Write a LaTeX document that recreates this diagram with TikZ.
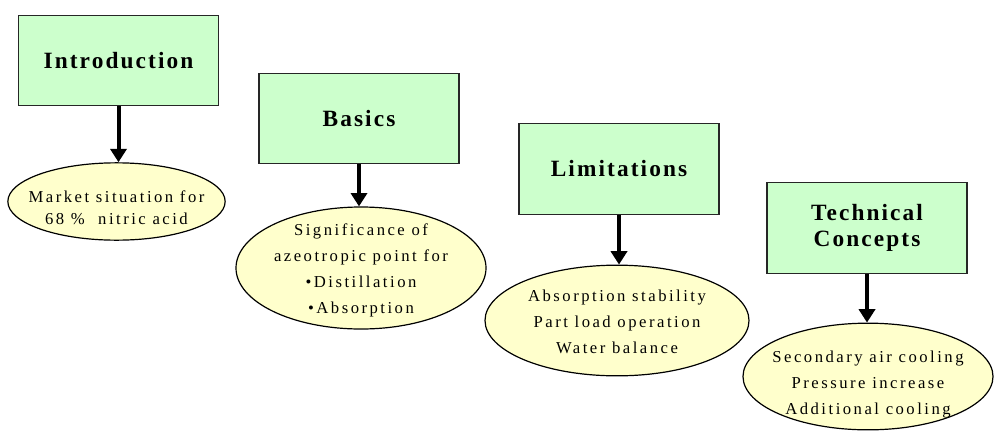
\documentclass[tikz,border=0pt]{standalone}
\usepackage{fontspec}
\usepackage{tikz}
\usetikzlibrary{arrows.meta, shapes.geometric}
\setmainfont{Liberation Serif}
\newfontfamily\headfont{Liberation Serif}[LetterSpace=9]
\newfontfamily\notefont{Liberation Serif}[LetterSpace=15]
\definecolor{topicgreen}{HTML}{CCFFCC}
\definecolor{notecream}{HTML}{FFFFCC}

\begin{document}
\begin{tikzpicture}[
    x=0.75pt, y=-0.75pt,
    topic/.style={draw=black!85, fill=topicgreen, line width=0.9pt,
               minimum width=150pt, minimum height=68pt, align=center,
               font=\headfont\bfseries\fontsize{17.5}{19.5}\selectfont},
    note/.style={ellipse, draw=black, fill=notecream, line width=0.9pt, inner sep=0pt},
    notetext/.style={align=center, inner sep=0pt,
               font=\notefont\fontsize{12.5}{19.5}\selectfont},
    down/.style={-{Triangle[length=10pt, width=12pt]}, line width=3pt},
]
    \useasboundingbox (0,0) rectangle (994,432);

    % topic boxes, stepping down to the right
    \node[topic] (intro) at (118.5, 60.5) {Introduction};
    \node[topic] (basics) at (359, 118.5) {Basics};
    \node[topic] (limits) at (619, 169) {Limitations};
    \node[topic] (tech) at (867, 228) {Technical\\Concepts};

    % notes under each topic
    \node[note, minimum width=163pt, minimum height=58pt] (market) at (116.5, 201.5) {};
    \node[notetext, font=\notefont\fontsize{12.5}{16.5}\selectfont]
        (markettxt) at ([yshift=-5pt]market.center) {Market situation for\\68 \%\ \ nitric acid};

    \node[note, minimum width=187.5pt, minimum height=91.5pt] (azeo) at (361, 268) {};
    \node[notetext] (azeotxt) at ([yshift=-2pt]azeo.center)
        {Significance of\\azeotropic point for\\\textbullet Distillation\\\textbullet Absorption};

    \node[note, minimum width=198pt, minimum height=83pt] (stab) at (617, 320.5) {};
    \node[notetext] (stabtxt) at ([yshift=-1pt]stab.center)
        {Absorption stability\\Part load operation\\Water balance};

    \node[note, minimum width=187.5pt, minimum height=80pt] (cool) at (868, 376.5) {};
    \node[notetext] (cooltxt) at ([yshift=-6pt]cool.center)
        {Secondary air cooling\\Pressure increase\\Additional cooling};

    % arrows
    \draw[down] (intro.south) -- (intro.south |- market.north);
    \draw[down] (basics.south) -- (basics.south |- azeo.north);
    \draw[down] (limits.south) -- (limits.south |- stab.north);
    \draw[down] (tech.south) -- (tech.south |- cool.north);
\end{tikzpicture}
\end{document}
